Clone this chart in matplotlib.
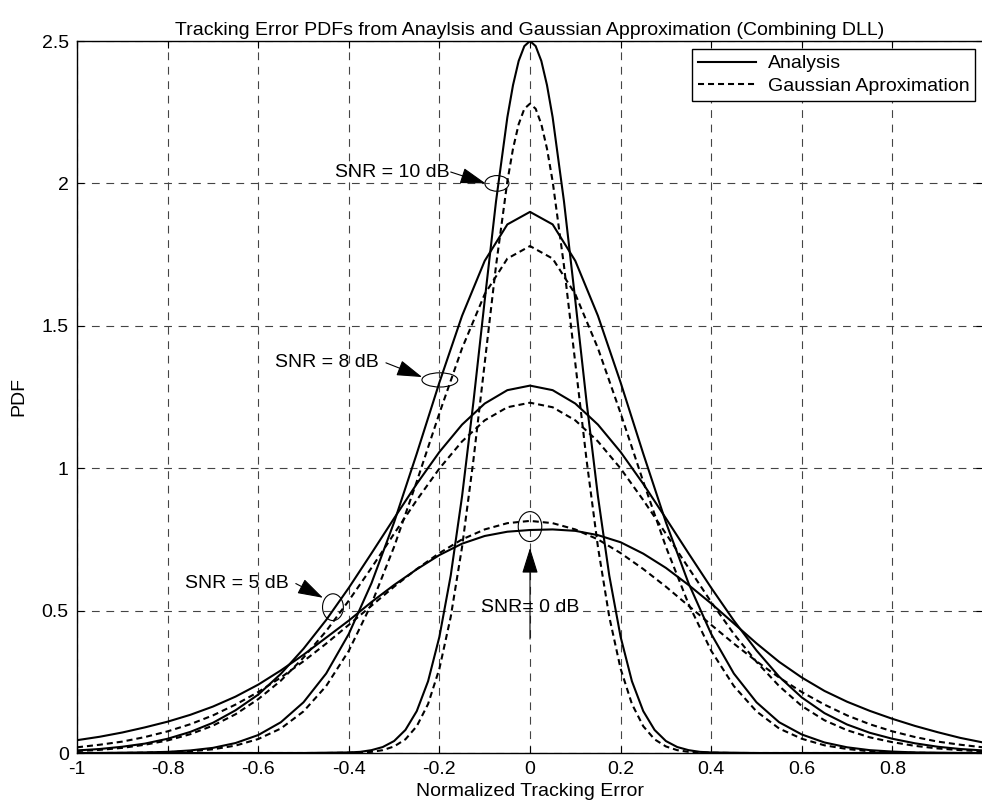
import numpy as np
import matplotlib
matplotlib.use('Agg')
import matplotlib.pyplot as plt
from matplotlib.patches import Ellipse

plt.rcParams['font.family'] = ['Liberation Sans', 'DejaVu Sans']

# sample positions (normalized tracking error)
x_grid = np.round(np.arange(-1.0, 1.0001, 0.05), 2)

# SNR = 0 dB
snr0_analysis = [0.045, 0.057, 0.072, 0.090, 0.110, 0.134, 0.163, 0.198, 0.240, 0.290,
                 0.345, 0.405, 0.465, 0.530, 0.590, 0.645, 0.695, 0.735, 0.762, 0.777,
                 0.783, 0.785, 0.780, 0.765, 0.740, 0.700, 0.650, 0.590, 0.525, 0.455,
                 0.385, 0.320, 0.265, 0.218, 0.180, 0.148, 0.120, 0.095, 0.073, 0.053, 0.037]
snr0_gauss = [0.020, 0.029, 0.040, 0.056, 0.076, 0.101, 0.132, 0.170, 0.214, 0.265,
              0.322, 0.384, 0.450, 0.517, 0.584, 0.646, 0.702, 0.750, 0.785, 0.807,
              0.815, 0.807, 0.785, 0.750, 0.702, 0.646, 0.584, 0.517, 0.450, 0.384,
              0.322, 0.265, 0.214, 0.170, 0.132, 0.101, 0.076, 0.056, 0.040, 0.029, 0.020]

# SNR = 5 dB
snr5_analysis = [0.009, 0.014, 0.022, 0.033, 0.050, 0.074, 0.106, 0.150, 0.205, 0.278,
                 0.366, 0.467, 0.580, 0.701, 0.824, 0.945, 1.057, 1.153, 1.227, 1.274,
                 1.290, 1.274, 1.227, 1.153, 1.057, 0.945, 0.824, 0.701, 0.580, 0.465,
                 0.360, 0.268, 0.195, 0.140, 0.100, 0.071, 0.050, 0.034, 0.022, 0.014, 0.009]
snr5_gauss = [0.007, 0.011, 0.018, 0.029, 0.044, 0.066, 0.096, 0.136, 0.189, 0.254,
              0.335, 0.428, 0.535, 0.650, 0.770, 0.888, 0.999, 1.094, 1.168, 1.214,
              1.230, 1.214, 1.168, 1.094, 0.999, 0.888, 0.770, 0.650, 0.530, 0.418,
              0.320, 0.235, 0.165, 0.115, 0.080, 0.055, 0.038, 0.025, 0.016, 0.010, 0.006]

# SNR = 8 dB
snr8_analysis = [0.0, 0.0, 0.001, 0.002, 0.004, 0.009, 0.018, 0.035, 0.063, 0.108,
                 0.178, 0.279, 0.418, 0.596, 0.810, 1.051, 1.301, 1.535, 1.728, 1.856,
                 1.900, 1.856, 1.728, 1.535, 1.301, 1.051, 0.810, 0.596, 0.418, 0.279,
                 0.178, 0.108, 0.065, 0.037, 0.020, 0.010, 0.005, 0.002, 0.001, 0.0, 0.0]
snr8_gauss = [0.0, 0.0, 0.0, 0.001, 0.003, 0.006, 0.013, 0.026, 0.049, 0.086,
              0.146, 0.235, 0.359, 0.523, 0.724, 0.953, 1.193, 1.421, 1.611, 1.736,
              1.780, 1.736, 1.611, 1.421, 1.193, 0.953, 0.724, 0.523, 0.359, 0.235,
              0.146, 0.086, 0.050, 0.027, 0.014, 0.006, 0.003, 0.001, 0.0, 0.0, 0.0]

# SNR = 10 dB (narrow, sampled finer around the peak)
x_fine = [-1.0, -0.8, -0.6, -0.5, -0.45, -0.4, -0.375, -0.35, -0.325, -0.3, -0.275,
          -0.25, -0.225, -0.2, -0.175, -0.15, -0.125, -0.1, -0.075, -0.05, -0.0375,
          -0.025, -0.0125, 0.0, 0.0125, 0.025, 0.0375, 0.05, 0.075, 0.1, 0.125, 0.15,
          0.175, 0.2, 0.225, 0.25, 0.275, 0.3, 0.325, 0.35, 0.375, 0.4, 0.45, 0.5,
          0.6, 0.8, 1.0]
snr10_analysis = [0.0, 0.0, 0.0, 0.0, 0.001, 0.002, 0.004, 0.010, 0.021, 0.042, 0.081,
                  0.147, 0.252, 0.408, 0.623, 0.901, 1.231, 1.589, 1.937, 2.232, 2.345,
                  2.430, 2.482, 2.500, 2.482, 2.430, 2.345, 2.232, 1.937, 1.589, 1.231, 0.901,
                  0.623, 0.408, 0.252, 0.147, 0.081, 0.042, 0.021, 0.010, 0.004, 0.002, 0.001,
                  0.0, 0.0, 0.0, 0.0]
snr10_gauss = [0.0, 0.0, 0.0, 0.0, 0.0, 0.001, 0.002, 0.004, 0.010, 0.023, 0.048,
               0.094, 0.172, 0.296, 0.478, 0.723, 1.027, 1.369, 1.711, 2.007, 2.122,
               2.208, 2.262, 2.280, 2.262, 2.208, 2.122, 2.007, 1.711, 1.369, 1.027, 0.723,
               0.478, 0.296, 0.172, 0.094, 0.048, 0.023, 0.010, 0.004, 0.002, 0.001, 0.0,
               0.0, 0.0, 0.0, 0.0]

x_ticks = [-1, -0.8, -0.6, -0.4, -0.2, 0, 0.2, 0.4, 0.6, 0.8]
x_tick_labels = ['-1', '-0.8', '-0.6', '-0.4', '-0.2', '0', '0.2', '0.4', '0.6', '0.8']
y_ticks = [0, 0.5, 1, 1.5, 2, 2.5]
y_tick_labels = ['0', '0.5', '1', '1.5', '2', '2.5']

# annotation labels: text, text position, arrow tip, ellipse centre, ellipse size
labels = [
    ('SNR = 10 dB', (-0.305, 2.04), (-0.098, 2.0), (-0.073, 2.0), (0.053, 0.055)),
    ('SNR = 8 dB', (-0.448, 1.37), (-0.238, 1.32), (-0.199, 1.31), (0.079, 0.05)),
    ('SNR = 5 dB', (-0.647, 0.595), (-0.457, 0.545), (-0.435, 0.512), (0.046, 0.094)),
]

fig = plt.figure(figsize=(9.82, 8.10), dpi=100)
ax = fig.add_axes([77 / 982, 57 / 810, 906 / 982, 712 / 810])

sol = dict(color='black', lw=1.5, solid_joinstyle='round')
dsh = dict(color='black', lw=1.5, ls=(0, (2.9, 1.9)))

ax.plot(x_grid, snr0_analysis, label='Analysis', **sol)
ax.plot(x_grid, snr0_gauss, label='Gaussian Aproximation', **dsh)
ax.plot(x_grid, snr5_analysis, **sol)
ax.plot(x_grid, snr5_gauss, **dsh)
ax.plot(x_grid, snr8_analysis, **sol)
ax.plot(x_grid, snr8_gauss, **dsh)
ax.plot(x_fine, snr10_analysis, **sol)
ax.plot(x_fine, snr10_gauss, **dsh)

ax.set_xlim(-1, 1)
ax.set_ylim(0, 2.5)
ax.set_xticks(x_ticks)
ax.set_xticklabels(x_tick_labels)
ax.set_yticks(y_ticks)
ax.set_yticklabels(y_tick_labels)
ax.tick_params(direction='in', top=True, right=True, length=5, width=0.8,
               labelsize=14, pad=6)
ax.grid(True, color='#444444', lw=0.8, ls=(0, (7, 6)))
for s in ax.spines.values():
    s.set_linewidth(1.0)

ax.set_title('Tracking Error PDFs from Anaylsis and Gaussian Approximation (Combining DLL)',
             fontsize=14, pad=4)
ax.set_xlabel('Normalized Tracking Error', fontsize=14, labelpad=3)
ax.set_ylabel('PDF', fontsize=14, labelpad=10)

arrow = dict(arrowstyle='-|>,head_length=1.6,head_width=0.5', color='black', lw=0.8,
             shrinkA=0, shrinkB=0)
for txt, tpos, tip, cen, size in labels:
    ax.annotate('', xy=tip, xytext=(tpos[0] + 0.13, tpos[1]), arrowprops=arrow)
    ax.text(tpos[0], tpos[1], txt, ha='center', va='center', fontsize=14)
    ax.add_patch(Ellipse(cen, size[0], size[1], fill=False, lw=0.8, color='black'))

# SNR = 0 dB: vertical arrow through the label
ax.annotate('', xy=(0.0, 0.72), xytext=(0.0, 0.40), arrowprops=arrow)
ax.text(0.0, 0.51, 'SNR= 0 dB', ha='center', va='center', fontsize=14)
ax.add_patch(Ellipse((0.0, 0.795), 0.052, 0.105, fill=False, lw=0.8, color='black'))

leg = ax.legend(loc='upper right', bbox_to_anchor=(975 / 982, 1 - 49 / 810),
                bbox_transform=fig.transFigure, fontsize=14, fancybox=False,
                framealpha=1, edgecolor='black', handlelength=3.0, borderaxespad=0,
                borderpad=0.3, labelspacing=0.25, handletextpad=0.6)
leg.get_frame().set_linewidth(1.0)

fig.savefig('out.png', dpi=100)
